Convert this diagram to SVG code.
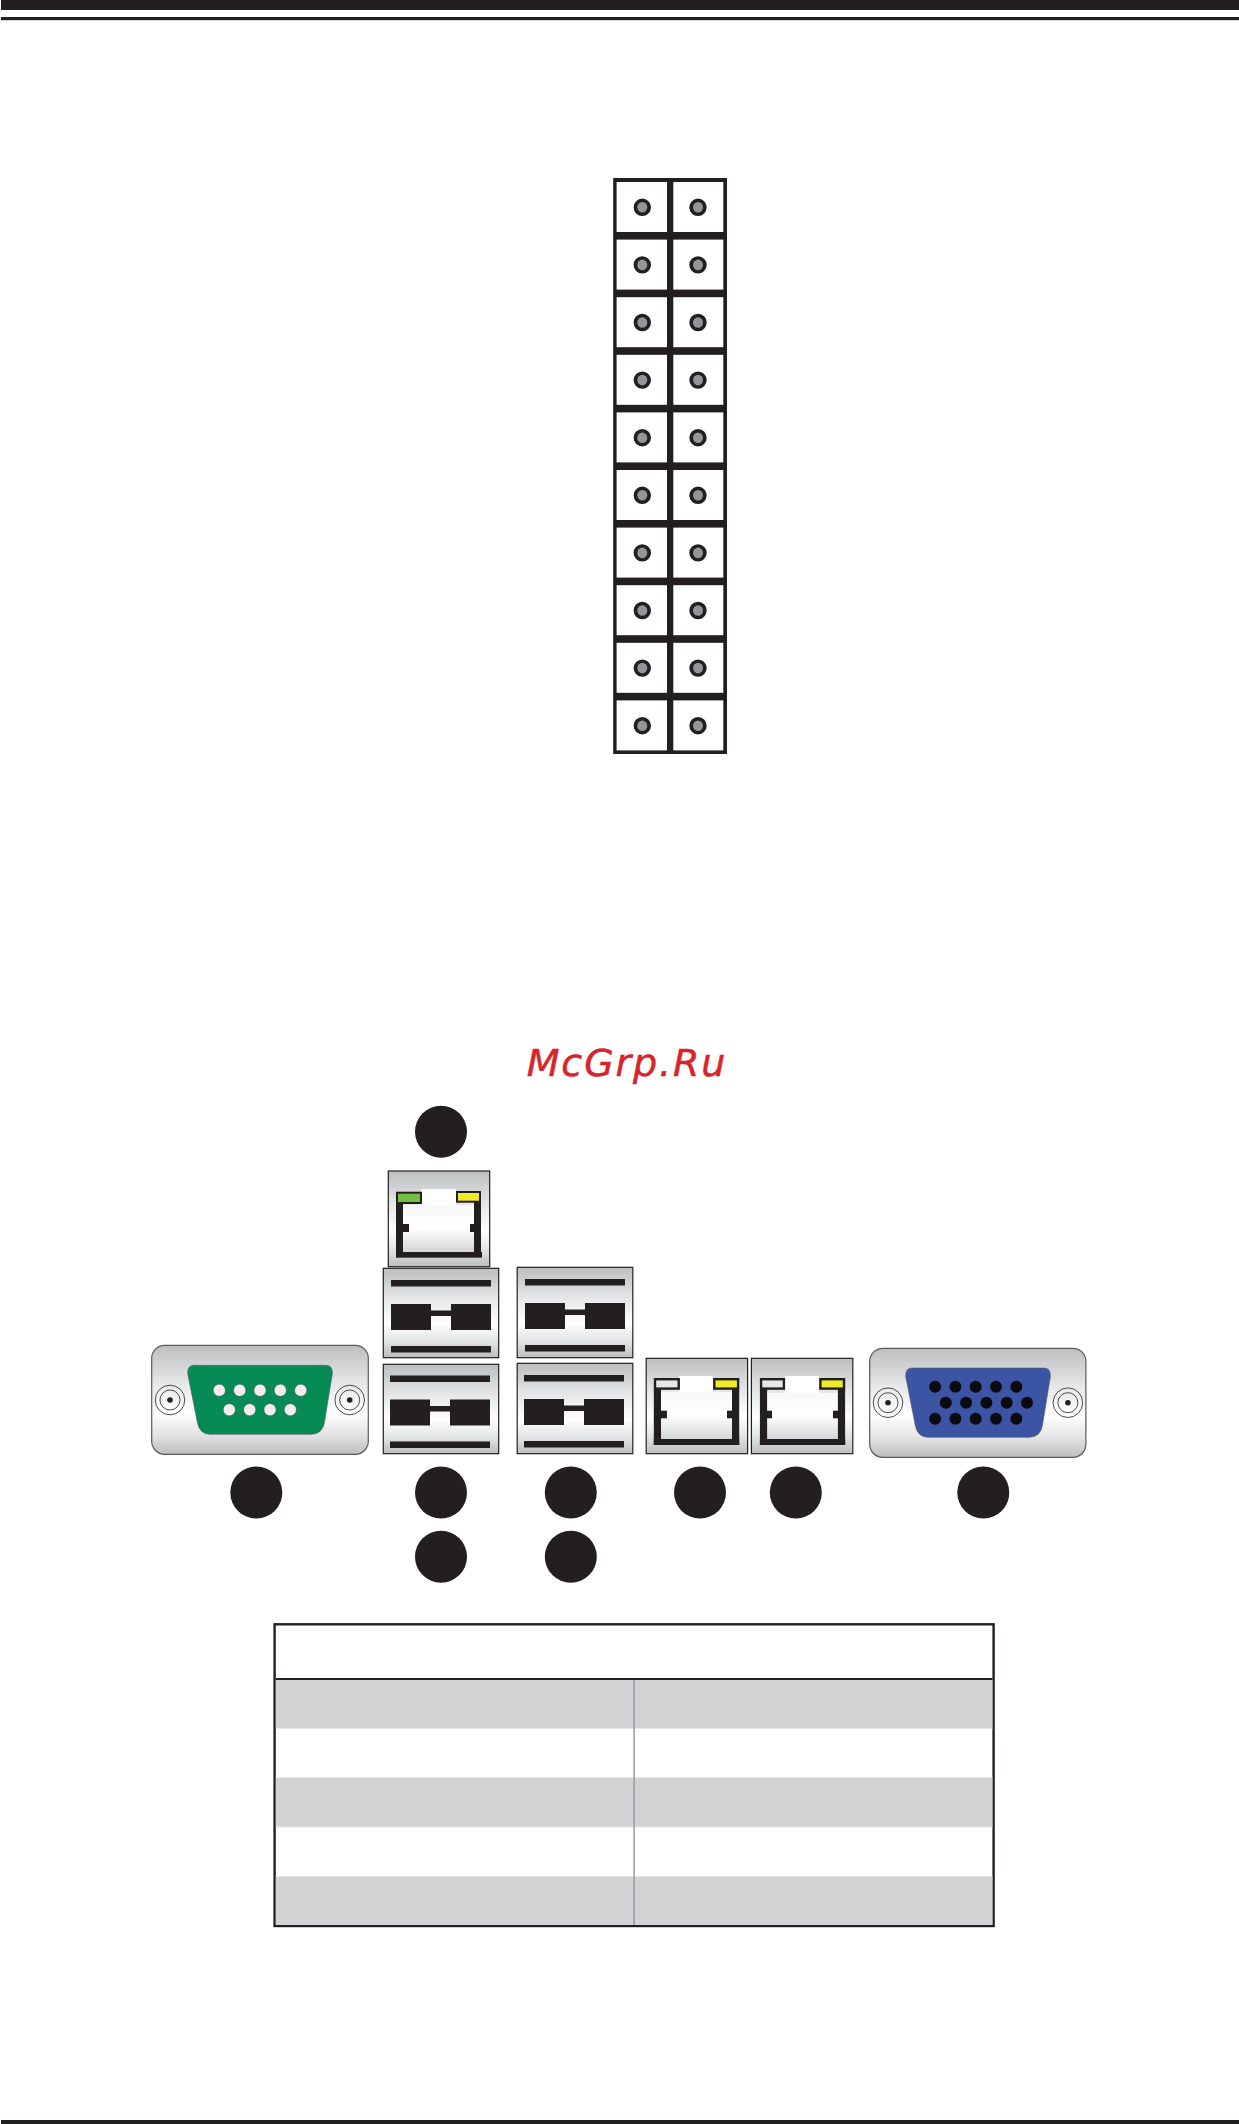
<svg xmlns="http://www.w3.org/2000/svg" width="1239" height="2124" viewBox="0 0 1239 2124">
<style>
.k{fill:#231f20}
.w{fill:#fff}
.plate{stroke:#231f20;stroke-width:1.2;fill:url(#metal)}
.shell{stroke:#58595b;stroke-width:1.2;fill:url(#metal)}
.inner{fill:url(#inner)}
.pinw{fill:#f4ecee;stroke:#58595b;stroke-width:.4}
.pinb{fill:#0b0a10}
.ring{fill:none;stroke:#231f20;stroke-width:.8}
.dot{fill:#231f20;stroke:#231f20;stroke-width:3.4}
.dotc{fill:#939598}
.row{fill:#d1d3d4}
.gap{fill:#e6e7e8}
.wm{font-family:"DejaVu Sans",sans-serif;font-style:oblique;font-size:38px;letter-spacing:1.9px;fill:#d9232a;stroke:#d9232a;stroke-width:.5}
</style>
<defs>
<linearGradient id="metal" x1="0" y1="0" x2="0" y2="1">
<stop offset="0" stop-color="#bcbec0"/>
<stop offset=".35" stop-color="#e6e7e8"/>
<stop offset=".62" stop-color="#ffffff"/>
<stop offset=".82" stop-color="#e2e3e4"/>
<stop offset="1" stop-color="#bcbec0"/>
</linearGradient>
<linearGradient id="inner" x1="0" y1="0" x2="0" y2="1">
<stop offset="0" stop-color="#f7f8f8"/>
<stop offset=".5" stop-color="#ffffff"/>
<stop offset="1" stop-color="#d4d5d6"/>
</linearGradient>
<g id="pinpair">
<ellipse class="dot" cx="642.3" cy="0" rx="7" ry="7"/>
<ellipse class="dot" cx="698" cy="0" rx="7" ry="7"/>
<ellipse class="dotc" cx="642.3" cy="0" rx="5" ry="5.3"/>
<ellipse class="dotc" cx="698" cy="0" rx="5" ry="5.3"/>
</g>
<g id="screw">
<circle class="ring" r="14.8"/>
<circle class="ring" r="10"/>
<circle class="k" r="2.8"/>
</g>
<g id="usb1">
<rect class="k" x="0" y="0" width="100" height="6.5"/>
<rect class="k" x="0" y="24" width="40" height="26"/>
<rect class="k" x="60" y="24" width="40" height="26"/>
<rect class="k" x="40" y="30.5" width="20" height="5.5"/>
<rect class="k" x="0" y="66" width="100" height="6.5"/>
</g>
</defs>
<rect width="1239" height="2124" fill="#fff"/>
<g id="page-rules">
<rect class="k" x="1" y="0" width="1238" height="10"/>
<rect class="k" x="1" y="17" width="1238" height="3.2"/>
<rect class="k" x="1" y="2120" width="1238" height="4"/>
</g>
<g id="header-jp">
<rect class="k" x="613.2" y="178" width="113.8" height="576"/>
<g id="cells" class="w">
<rect x="616.6" y="182" width="50.4" height="50"/><rect x="673.3" y="182" width="50" height="50"/>
<rect x="616.6" y="239.6" width="50.4" height="50"/><rect x="673.3" y="239.6" width="50" height="50"/>
<rect x="616.6" y="297.2" width="50.4" height="50"/><rect x="673.3" y="297.2" width="50" height="50"/>
<rect x="616.6" y="354.8" width="50.4" height="50"/><rect x="673.3" y="354.8" width="50" height="50"/>
<rect x="616.6" y="412.4" width="50.4" height="50"/><rect x="673.3" y="412.4" width="50" height="50"/>
<rect x="616.6" y="470" width="50.4" height="50"/><rect x="673.3" y="470" width="50" height="50"/>
<rect x="616.6" y="527.6" width="50.4" height="50"/><rect x="673.3" y="527.6" width="50" height="50"/>
<rect x="616.6" y="585.2" width="50.4" height="50"/><rect x="673.3" y="585.2" width="50" height="50"/>
<rect x="616.6" y="642.8" width="50.4" height="50"/><rect x="673.3" y="642.8" width="50" height="50"/>
<rect x="616.6" y="700.4" width="50.4" height="50"/><rect x="673.3" y="700.4" width="50" height="50"/>
</g>
<use href="#pinpair" y="207.3"/><use href="#pinpair" y="264.9"/><use href="#pinpair" y="322.5"/><use href="#pinpair" y="380.1"/><use href="#pinpair" y="437.7"/><use href="#pinpair" y="495.3"/><use href="#pinpair" y="552.9"/><use href="#pinpair" y="610.5"/><use href="#pinpair" y="668.1"/><use href="#pinpair" y="725.7"/>
</g>
<text class="wm" x="526.7" y="1076">McGrp.Ru</text>
<g id="connectors"></g>
<g id="com-port">
<rect class="shell" x="151.7" y="1345.3" width="216.6" height="109" rx="13"/>
<path d="M194 1365.3H326Q333 1365.3 332.3 1374L324.5 1422Q322.5 1434.3 311 1434.3H210Q199.5 1434.3 197.3 1422L187.8 1374Q187 1365.3 194 1365.3Z" fill="#068a56" stroke="#58595b" stroke-width=".6"/>
<g class="pinw"><circle cx="219.3" cy="1390.3" r="6"/><circle cx="239.7" cy="1390.3" r="6"/><circle cx="260" cy="1390.3" r="6"/><circle cx="280.3" cy="1390.3" r="6"/><circle cx="300.7" cy="1390.3" r="6"/><circle cx="229.3" cy="1409.7" r="6"/><circle cx="249.7" cy="1409.7" r="6"/><circle cx="270" cy="1409.7" r="6"/><circle cx="290.3" cy="1409.7" r="6"/></g>
<use href="#screw" x="170" y="1400"/><use href="#screw" x="349.7" y="1400"/>
</g>
<g id="lan-ipmi">
<rect class="plate" x="388.3" y="1171" width="101.4" height="95.7"/>
<rect class="w" x="421" y="1189" width="35" height="16.7"/>
<rect class="inner" x="403" y="1205" width="71" height="47"/>
<rect class="k" x="396" y="1203" width="7" height="50"/><rect class="k" x="474" y="1202" width="7" height="51"/>
<rect class="k" x="396" y="1252" width="86" height="5.7"/>
<rect class="k" x="403" y="1224" width="6" height="8"/><rect class="k" x="470" y="1224" width="4" height="8"/>
<rect x="397" y="1192.7" width="24" height="10.3" fill="#72bf44" stroke="#231f20" stroke-width="2"/>
<rect x="457" y="1192" width="23" height="9.7" fill="#f2ea24" stroke="#231f20" stroke-width="2"/>
</g>
<g id="usb-a">
<rect class="plate" x="383.3" y="1268.3" width="115.4" height="89.4"/>
<use href="#usb1" x="391" y="1280"/>
<rect class="plate" x="383.3" y="1364.3" width="115.4" height="89.4"/>
<use href="#usb1" x="390" y="1375.5"/>
</g>
<g id="usb-b">
<rect class="plate" x="517.2" y="1267.3" width="115.6" height="90.4"/>
<use href="#usb1" x="525" y="1279"/>
<rect class="plate" x="517.2" y="1363.3" width="115.6" height="90.4"/>
<use href="#usb1" x="524" y="1375"/>
</g>
<g id="lan-1">
<rect class="plate" x="646.2" y="1358.3" width="101.4" height="95.4"/>
<rect class="w" x="679" y="1376" width="34" height="16"/>
<rect class="inner" x="661" y="1392" width="71" height="47"/>
<rect class="k" x="653.8" y="1389" width="7.2" height="56"/><rect class="k" x="732" y="1389" width="7.2" height="56"/>
<rect class="k" x="653.8" y="1439" width="85.4" height="6"/>
<rect class="k" x="661" y="1410.7" width="5.9" height="7.6"/><rect class="k" x="727" y="1410.7" width="5" height="7.6"/>
<rect x="655" y="1379.2" width="23.7" height="9.4" fill="#e6e7e8" stroke="#231f20" stroke-width="2.4"/>
<rect x="714.3" y="1379.2" width="23.8" height="9.4" fill="#f2ea24" stroke="#231f20" stroke-width="2.4"/>
</g>
<g id="lan-2">
<rect class="plate" x="751.4" y="1358.3" width="101.4" height="95.4"/>
<rect class="w" x="785" y="1376" width="34" height="17"/>
<rect class="inner" x="767" y="1393" width="71" height="46"/>
<rect class="k" x="759.9" y="1389" width="7.2" height="56"/><rect class="k" x="837.9" y="1389" width="7.2" height="56"/>
<rect class="k" x="759.9" y="1439" width="85.3" height="6"/>
<rect class="k" x="767" y="1410.7" width="5" height="7.6"/><rect class="k" x="833" y="1410.7" width="5" height="7.6"/>
<rect x="761.1" y="1379.2" width="22.8" height="9.4" fill="#e6e7e8" stroke="#231f20" stroke-width="2.4"/>
<rect x="820.4" y="1379.2" width="23.6" height="9.4" fill="#f2ea24" stroke="#231f20" stroke-width="2.4"/>
</g>
<g id="vga-port">
<rect class="shell" x="869.7" y="1348.3" width="216.2" height="109" rx="13"/>
<path d="M912 1368H1044Q1051 1368 1050.3 1377L1042.5 1425Q1040.5 1437.3 1029 1437.3H928Q917.5 1437.3 915.2 1425L905.8 1377Q905 1368 912 1368Z" fill="#3b54a4" stroke="#58595b" stroke-width=".6"/>
<g class="pinb"><circle cx="935.1" cy="1386.7" r="6"/><circle cx="955.4" cy="1386.7" r="6"/><circle cx="975.7" cy="1386.7" r="6"/><circle cx="996" cy="1386.7" r="6"/><circle cx="1016.3" cy="1386.7" r="6"/><circle cx="945.8" cy="1402.7" r="6"/><circle cx="966.1" cy="1402.7" r="6"/><circle cx="986.4" cy="1402.7" r="6"/><circle cx="1006.7" cy="1402.7" r="6"/><circle cx="1027" cy="1402.7" r="6"/><circle cx="935.1" cy="1418.7" r="6"/><circle cx="955.4" cy="1418.7" r="6"/><circle cx="975.7" cy="1418.7" r="6"/><circle cx="996" cy="1418.7" r="6"/><circle cx="1016.3" cy="1418.7" r="6"/></g>
<use href="#screw" x="888" y="1402.7"/><use href="#screw" x="1067.9" y="1402.7"/>
</g>
<g id="callouts" class="k">
<circle id="c-top" cx="441" cy="1131.7" r="26"/>
<circle id="c-com" cx="256.3" cy="1492.5" r="26"/>
<circle id="c-usb-a1" cx="441" cy="1492.5" r="26"/>
<circle id="c-usb-b1" cx="570.8" cy="1492.5" r="26"/>
<circle id="c-lan1" cx="700" cy="1492.5" r="26"/>
<circle id="c-lan2" cx="795.8" cy="1492.5" r="26"/>
<circle id="c-vga" cx="983.3" cy="1492.5" r="26"/>
<circle id="c-usb-a2" cx="441" cy="1556.7" r="26"/>
<circle id="c-usb-b2" cx="570.8" cy="1556.7" r="26"/>
</g>
<g id="table">
<rect x="274.6" y="1624.3" width="719" height="301.7" fill="#fff" stroke="#231f20" stroke-width="2.4"/>
<rect class="row" x="275.8" y="1680" width="716.6" height="48"/>
<rect class="row" x="275.8" y="1778" width="716.6" height="48.7"/>
<rect class="row" x="275.8" y="1877" width="716.6" height="48"/>
<rect class="gap" x="275.8" y="1728" width="716.6" height="1"/>
<rect class="gap" x="275.8" y="1777" width="716.6" height="1"/>
<rect class="gap" x="275.8" y="1826.7" width="716.6" height="1"/>
<rect class="gap" x="275.8" y="1876" width="716.6" height="1"/>
<rect class="k" x="275.8" y="1678" width="716.6" height="2"/>
<rect x="633.4" y="1680" width="1.4" height="245" fill="#939598"/>
</g>
</svg>
